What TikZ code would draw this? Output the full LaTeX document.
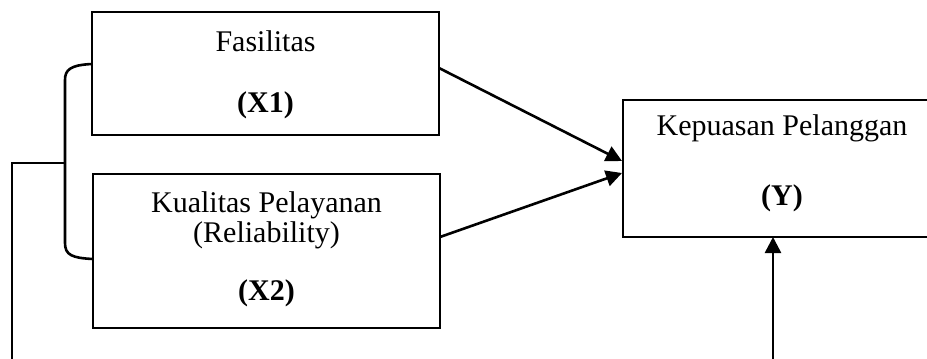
\documentclass[tikz,border=0pt]{standalone}
\usepackage{fontspec}
\setmainfont{Liberation Serif}
\usetikzlibrary{arrows.meta}
\begin{document}
\begin{tikzpicture}[x=0.5pt,y=-0.5pt,
  txt/.style={anchor=base,inner sep=0pt,font=\fontsize{15}{18}\selectfont},
  frame/.style={line width=1.3pt},
  wire/.style={line width=1.3pt},
  arr/.style={line width=1.3pt,-{Triangle[length=8pt,width=8pt]}}]
\useasboundingbox (0,0) rectangle (927,359);
\begin{scope}
\clip (0,0) rectangle (927,359);
% variable boxes
\draw[frame] (92,12) rectangle (439,135);
\draw[frame] (93,174) rectangle (440,328);
\draw[frame] (623,100) rectangle (941,237);
\coordinate (x1w) at (92,64);
\coordinate (x1e) at (439,68);
\coordinate (x2w) at (93,259);
\coordinate (x2e) at (440,237);
\coordinate (yt) at (622,161);
\coordinate (yb) at (622,173);
\coordinate (ybot) at (773,237);
% labels
\node[txt] (t1) at (265.5,51) {Fasilitas};
\node[txt] (t1b) at (265.5,112) {\textbf{(X1)}};
\node[txt] (t2) at (266.5,212) {Kualitas Pelayanan};
\node[txt] (t2b) at (266.5,242) {(Reliability)};
\node[txt] (t2c) at (266.5,300) {\textbf{(X2)}};
\node[txt] (t3) at (782,135) {Kepuasan Pelanggan};
\node[txt] (t3b) at (782,205) {\textbf{(Y)}};
% bracket joining X1 and X2
\coordinate (bm) at (65,163);
\draw[wire] (x1w) .. controls (70,65) and (65,70) .. (65,80) -- (65,243)
  .. controls (65,255) and (72,258) .. (x2w);
\draw[wire] (bm) -- (12,163) -- (12,370);
% arrows into Y
\draw[arr] (x1e) -- (yt);
\draw[arr] (x2e) -- (yb);
\coordinate (ylow) at (773,370);
\draw[arr] (ylow) -- (ybot);
\end{scope}
\end{tikzpicture}
\end{document}
